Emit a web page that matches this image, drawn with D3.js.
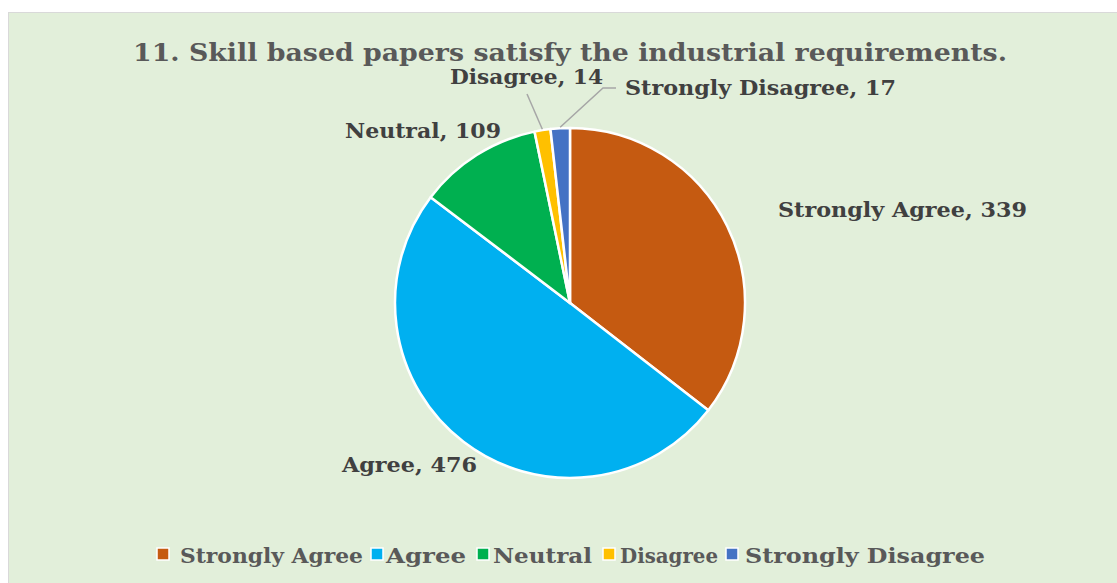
<!DOCTYPE html>
<html><head><meta charset="utf-8">
<script src="https://cdn.jsdelivr.net/npm/d3@7"></script>
<style>
html,body{margin:0;padding:0;background:#fff;}
svg text{font-family:"DejaVu Serif",serif;font-weight:bold;fill:#595959;}
svg text.lbl{fill:#404040;}
</style></head>
<body>
<svg id="chart" width="1117" height="583"></svg>
<script>
const titleText = "11. Skill based papers satisfy the industrial requirements.";
const categories = ["Strongly Agree","Agree","Neutral","Disagree","Strongly Disagree"];
const values = [339,476,109,14,17];
const colors = ["#C55A11","#00B0F0","#00B050","#FFC000","#4472C4"];

// layout (not data)
const W = 1117, H = 583;
const cx = 570, cy = 303, R = 175;
const labelLayout = {
  "Strongly Agree":   {x:778, y:217, w:249},
  "Agree":            {x:342, y:472, w:135},
  "Neutral":          {x:345, y:138, w:156},
  "Disagree":         {x:450, y:84,  w:153, line:[[527,94]]},
  "Strongly Disagree":{x:625, y:95,  w:271, line:[[603,88],[616,88]]}
};

const svg = d3.select("#chart");
svg.append("rect").attr("x",8.5).attr("y",12.5).attr("width",W).attr("height",H)
  .attr("fill","#E2EFDA").attr("stroke","#D9D9D9").attr("stroke-width",1);

function fitText(sel, w){
  const n = sel.node();
  const len = n.getComputedTextLength();
  if (Math.abs(len-w) > 1) sel.attr("textLength", w).attr("lengthAdjust","spacingAndGlyphs");
}

const title = svg.append("text").attr("x",133).attr("y",61)
  .attr("font-size",25).text(titleText);
fitText(title, 874);

const data = categories.map((c,i)=>({cat:c, value:values[i], color:colors[i]}));
const pie = d3.pie().value(d=>d.value).sort(null).startAngle(0).endAngle(2*Math.PI);
const arc = d3.arc().innerRadius(0).outerRadius(R);
const arcs = pie(data);

const g = svg.append("g").attr("transform",`translate(${cx},${cy})`);
g.selectAll("path").data(arcs).join("path")
  .attr("d",arc).attr("fill",d=>d.data.color)
  .attr("stroke","#fff").attr("stroke-width",2.5).attr("stroke-linejoin","round");

// leader lines & labels
arcs.forEach(a=>{
  const L = labelLayout[a.data.cat];
  if (L.line){
    const mid = (a.startAngle+a.endAngle)/2;
    const p0 = [cx + (R+1)*Math.sin(mid), cy - (R+1)*Math.cos(mid)];
    const pts = [p0].concat(L.line);
    svg.append("path").attr("d", d3.line()(pts)).attr("fill","none")
      .attr("stroke","#A6A6A6").attr("stroke-width",1.5);
  }
  const t = svg.append("text").attr("class","lbl").attr("x",L.x).attr("y",L.y).attr("font-size",20)
    .text(`${a.data.cat}, ${a.data.value}`);
  fitText(t, L.w);
});

// legend
const legendLayout = [
  {sx:157, tx:180, w:183},
  {sx:371, tx:386, w:80},
  {sx:477, tx:493, w:99},
  {sx:603, tx:620, w:98},
  {sx:726, tx:745, w:240}
];
categories.forEach((c,i)=>{
  const L = legendLayout[i];
  svg.append("rect").attr("x",L.sx).attr("y",548).attr("width",12).attr("height",12)
    .attr("fill",colors[i]).attr("stroke","#fff").attr("stroke-width",1.5);
  const t = svg.append("text").attr("x",L.tx).attr("y",563).attr("font-size",21).text(c);
  fitText(t, L.w);
});
</script>
</body></html>
